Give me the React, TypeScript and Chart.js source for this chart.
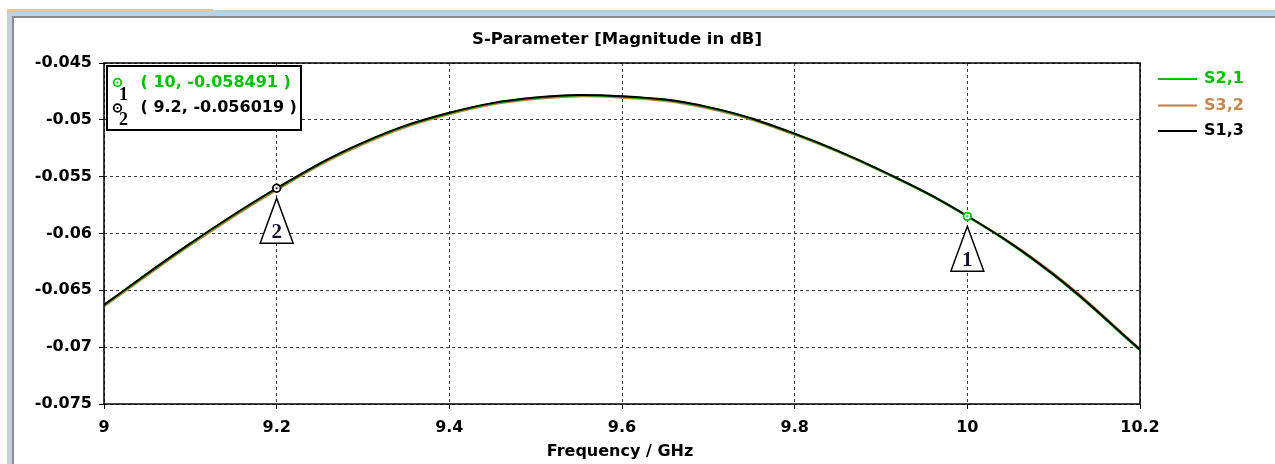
import React, { useEffect, useRef } from "react";
import { Chart, registerables } from "chart.js";

Chart.register(...registerables);

// ---- data ----
const freqs = [9.0, 9.1, 9.2, 9.3, 9.4, 9.5, 9.6, 9.7, 9.8, 9.9, 10.0, 10.1, 10.2];
const s21 = [-0.0663, -0.0609, -0.05605, -0.05203, -0.04941, -0.04807, -0.04795, -0.04891, -0.05124, -0.05447, -0.058491, -0.06366, -0.07027];
const s32 = [-0.06642, -0.06102, -0.05617, -0.05214, -0.04951, -0.04816, -0.04804, -0.049, -0.05131, -0.0545, -0.05847, -0.06354, -0.07016];
const s13 = [-0.06627, -0.06087, -0.056019, -0.052, -0.04938, -0.04804, -0.04792, -0.04888, -0.05121, -0.05444, -0.05846, -0.06362, -0.07022];

const seriesNames = ["S2,1", "S3,2", "S1,3"];
const xTicks = [9, 9.2, 9.4, 9.6, 9.8, 10, 10.2];
const xTickLabels = ["9", "9.2", "9.4", "9.6", "9.8", "10", "10.2"];
const yTicks = [-0.075, -0.07, -0.065, -0.06, -0.055, -0.05, -0.045];
const yTickLabels = ["-0.075", "-0.07", "-0.065", "-0.06", "-0.055", "-0.05", "-0.045"];

const markerIds = ["1", "2"];
const markerFreqs = [10, 9.2];
const markerValues = [-0.058491, -0.056019];
const markerTexts = ["( 10, -0.058491 )", "( 9.2, -0.056019 )"];

const titleText = "S-Parameter [Magnitude in dB]";
const xTitleText = "Frequency / GHz";

// ---- styles ----
const GREEN = "#00c000";
const BROWN = "#c08040";
const BLACK = "#000000";
const seriesColors = [GREEN, BROWN, BLACK];
const legendTextColors = [GREEN, "#c4874c", BLACK];
const markerColors = [GREEN, BLACK];
const FONT = "'DejaVu Sans', Verdana, sans-serif";

function drawMarkerCircle(ctx: CanvasRenderingContext2D, x: number, y: number, color: string) {
  ctx.beginPath();
  ctx.arc(x, y, 3.8, 0, Math.PI * 2);
  ctx.fillStyle = "#fff";
  ctx.fill();
  ctx.lineWidth = 1.8;
  ctx.strokeStyle = color;
  ctx.stroke();
  ctx.beginPath();
  ctx.arc(x, y, 1.1, 0, Math.PI * 2);
  ctx.fillStyle = color;
  ctx.fill();
}

const overlayPlugin = {
  id: "overlay",
  afterDraw(chart: any) {
    const { ctx, chartArea: a, scales } = chart;
    const xs = scales.x;
    const ys = scales.y;
    ctx.save();

    // plot box
    ctx.strokeStyle = "#000";
    ctx.lineWidth = 1.5;
    ctx.setLineDash([]);
    ctx.strokeRect(a.left, a.top, a.right - a.left, a.bottom - a.top);

    // title
    ctx.fillStyle = "#000";
    ctx.textAlign = "center";
    ctx.textBaseline = "middle";
    ctx.font = `bold 16.5px ${FONT}`;
    ctx.fillText(titleText, 617, 40);

    // x axis title
    ctx.font = `bold 16px ${FONT}`;
    ctx.fillText(xTitleText, 620, 452);

    // markers on curves
    markerFreqs.forEach((f, i) => {
      const px = xs.getPixelForValue(f);
      const py = ys.getPixelForValue(markerValues[i]);
      ctx.beginPath();
      ctx.moveTo(px, py + 10);
      ctx.lineTo(px + 16.5, py + 55);
      ctx.lineTo(px - 16.5, py + 55);
      ctx.closePath();
      ctx.fillStyle = "#fff";
      ctx.fill();
      ctx.strokeStyle = "#000";
      ctx.lineWidth = 1.5;
      ctx.stroke();
      ctx.font = "bold 21px 'Liberation Serif', serif";
      ctx.fillStyle = "#141432";
      ctx.textAlign = "center";
      ctx.textBaseline = "middle";
      ctx.fillText(markerIds[i], px, py + 44);
      drawMarkerCircle(ctx, px, py, markerColors[i]);
    });

    // marker info box
    ctx.fillStyle = "#fff";
    ctx.fillRect(107, 66, 194, 64);
    ctx.strokeStyle = "#000";
    ctx.lineWidth = 2;
    ctx.strokeRect(107, 66, 194, 64);
    const rowY = [82.5, 108];
    markerTexts.forEach((t, i) => {
      drawMarkerCircle(ctx, 117.5, rowY[i], markerColors[i]);
      ctx.font = "bold 18px 'Liberation Serif', serif";
      ctx.fillStyle = "#000";
      ctx.textAlign = "center";
      ctx.textBaseline = "middle";
      ctx.fillText(markerIds[i], 123.5, rowY[i] + 12.5);
      ctx.font = `bold 16px ${FONT}`;
      ctx.fillStyle = markerColors[i];
      ctx.textAlign = "left";
      ctx.fillText(t, 140.5, rowY[i]);
    });

    // legend
    const legY = [79, 105.5, 131];
    seriesNames.forEach((n, i) => {
      ctx.beginPath();
      ctx.moveTo(1158, legY[i]);
      ctx.lineTo(1197, legY[i]);
      ctx.strokeStyle = seriesColors[i];
      ctx.lineWidth = 2;
      ctx.stroke();
      ctx.font = `bold 16px ${FONT}`;
      ctx.fillStyle = legendTextColors[i];
      ctx.textAlign = "left";
      ctx.textBaseline = "middle";
      ctx.fillText(n, 1204, legY[i]);
    });

    ctx.restore();
  },
};

export default function App() {
  const canvasRef = useRef<HTMLCanvasElement | null>(null);

  useEffect(() => {
    const canvas = canvasRef.current;
    if (!canvas) return;
    const seriesData = [s21, s32, s13];
    const chart = new Chart(canvas, {
      type: "line",
      data: {
        datasets: seriesNames.map((name, i) => ({
          label: name,
          data: freqs.map((f, k) => ({ x: f, y: seriesData[i][k] })),
          borderColor: seriesColors[i],
          backgroundColor: seriesColors[i],
          borderWidth: i === 2 ? 2 : 2.2,
          pointRadius: 0,
          tension: 0.4,
          fill: false,
          order: i === 2 ? 0 : i === 0 ? 1 : 2,
        })),
      },
      options: {
        responsive: false,
        animation: false,
        devicePixelRatio: 1,
        layout: { padding: { top: 63, right: 135, left: 0, bottom: 0 } },
        plugins: {
          legend: { display: false },
          tooltip: { enabled: false },
          title: { display: false },
        },
        scales: {
          x: {
            type: "linear",
            min: 9,
            max: 10.2,
            afterBuildTicks: (scale: any) => {
              scale.ticks = xTicks.map((v) => ({ value: v }));
            },
            afterFit: (scale: any) => {
              scale.height = 60;
            },
            ticks: {
              autoSkip: false,
              maxRotation: 0,
              padding: 9,
              color: "#000",
              font: { family: FONT, weight: "bold", size: 16 },
              callback: (_v: any, i: number) => xTickLabels[i],
            },
            grid: {
              color: "#3a3a3a",
              lineWidth: 1,
              tickLength: 5,
              tickColor: "#000",
            },
            border: { display: false, dash: [3, 3] },
          },
          y: {
            type: "linear",
            min: -0.075,
            max: -0.045,
            afterBuildTicks: (scale: any) => {
              scale.ticks = yTicks.map((v) => ({ value: v }));
            },
            afterFit: (scale: any) => {
              scale.width = 104;
            },
            ticks: {
              autoSkip: false,
              padding: 7,
              color: "#000",
              font: { family: FONT, weight: "bold", size: 16 },
              callback: (_v: any, i: number) => yTickLabels[i],
            },
            grid: {
              color: "#3a3a3a",
              lineWidth: 1,
              tickLength: 5,
              tickColor: "#000",
            },
            border: { display: false, dash: [3, 3] },
          },
        },
      },
      plugins: [overlayPlugin],
    } as any);
    return () => chart.destroy();
  }, []);

  const abs = (l: number, t: number, w: number, h: number, bg: string): React.CSSProperties => ({
    position: "absolute",
    left: l,
    top: t,
    width: w,
    height: h,
    background: bg,
  });

  return (
    <div style={{ position: "absolute", left: 0, top: 0, width: 1275, height: 464, overflow: "hidden", background: "#fff" }}>
      <div style={abs(7, 9, 206, 2, "#f4c57c")} />
      <div style={abs(213, 10, 1062, 1, "#cfcfcf")} />
      <div style={abs(7, 11, 1268, 460, "#e8c593")} />
      <div style={abs(8, 12, 1267, 460, "#c3cfdf")} />
      <div style={abs(12, 16, 1263, 460, "#8c8c8c")} />
      <div style={abs(14, 18, 1261, 460, "#ffffff")} />
      <canvas ref={canvasRef} width={1275} height={464} style={{ position: "absolute", left: 0, top: 0, width: 1275, height: 464 }} />
    </div>
  );
}
